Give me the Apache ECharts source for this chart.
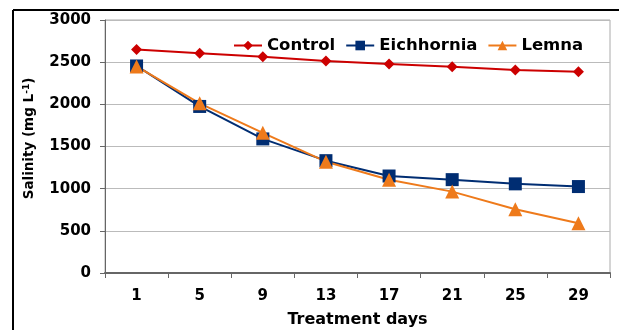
<!DOCTYPE html>
<html>
<head>
<meta charset="utf-8">
<script src="https://cdn.jsdelivr.net/npm/echarts@6/dist/echarts.min.js"></script>
<style>
  html, body { margin: 0; padding: 0; background: #fff; }
  #chart { width: 619px; height: 330px; }
</style>
</head>
<body>
<div id="chart"></div>
<script>
// treatment days and salinity readings
var days = ['1', '5', '9', '13', '17', '21', '25', '29'];
var control = [2650, 2605, 2565, 2515, 2478, 2445, 2408, 2385];
var eichhornia = [2455, 1975, 1590, 1332, 1150, 1107, 1057, 1025];
var lemna = [2450, 2012, 1662, 1320, 1105, 965, 755, 590];

var chart = echarts.init(document.getElementById('chart'));
var font = '"DejaVu Sans", sans-serif';

var option = {
    animation: false,
    grid: {
        left: 105, right: 9, top: 20, bottom: 57,
        outerBoundsMode: 'none',
        show: true, borderColor: '#aaa', borderWidth: 1
    },
    legend: {
        left: 228, top: 32,
        itemWidth: 28, itemHeight: 12, itemGap: 10,
        textStyle: { fontFamily: font, fontSize: 16.5, fontWeight: 'bold', color: '#000' },
        data: ['Control', 'Eichhornia', 'Lemna']
    },
    xAxis: {
        type: 'category',
        data: days,
        boundaryGap: true,
        name: 'Treatment days',
        nameLocation: 'middle',
        nameGap: 39,
        nameTextStyle: { fontFamily: font, fontSize: 16, fontWeight: 'bold', color: '#000' },
        axisLine: { lineStyle: { color: '#666', width: 2 } },
        axisTick: { show: true, alignWithLabel: false, length: 5, lineStyle: { color: '#666' } },
        axisLabel: { fontFamily: font, fontSize: 15, fontWeight: 'bold', color: '#000', margin: 16 }
    },
    yAxis: {
        type: 'value',
        min: 0, max: 3000, interval: 500,
        name: 'Salinity (mg L{sup|-1})',
        nameLocation: 'middle',
        nameGap: 68,
        nameTextStyle: {
            fontFamily: font, fontSize: 13.5, fontWeight: 'bold', color: '#000',
            padding: [0, 0, 0, 16],
            rich: { sup: { fontFamily: font, fontSize: 9, fontWeight: 'bold', verticalAlign: 'top', padding: [0, 0, 6, 0] } }
        },
        axisLine: { show: true, lineStyle: { color: '#666', width: 1 } },
        axisTick: { show: true, length: 5, lineStyle: { color: '#666' } },
        axisLabel: {
            fontFamily: font, fontSize: 15, fontWeight: 'bold', color: '#000', margin: 14,
            formatter: function (v) { return String(v); }
        },
        splitLine: { lineStyle: { color: '#bbb', width: 1 } }
    },
    graphic: [
        { type: 'line', shape: { x1: 13, y1: 10, x2: 619, y2: 10 }, style: { stroke: '#000', lineWidth: 2 } },
        { type: 'line', shape: { x1: 13, y1: 10, x2: 13, y2: 330 }, style: { stroke: '#000', lineWidth: 2 } },
        { type: 'line', shape: { x1: 105, y1: 20.5, x2: 610, y2: 20.5 }, style: { stroke: '#333', lineWidth: 1 } }
    ],
    series: [
        {
            name: 'Control', type: 'line', data: control,
            symbol: 'diamond', symbolSize: 11,
            itemStyle: { color: '#cc0000' }, lineStyle: { color: '#cc0000', width: 2 }
        },
        {
            name: 'Eichhornia', type: 'line', data: eichhornia,
            symbol: 'rect', symbolSize: 13,
            itemStyle: { color: '#002d72' }, lineStyle: { color: '#002d72', width: 2 }
        },
        {
            name: 'Lemna', type: 'line', data: lemna,
            symbol: 'triangle', symbolSize: 14,
            itemStyle: { color: '#ee7a1b' }, lineStyle: { color: '#ee7a1b', width: 2 }
        }
    ]
};

chart.setOption(option);
</script>
</body>
</html>
